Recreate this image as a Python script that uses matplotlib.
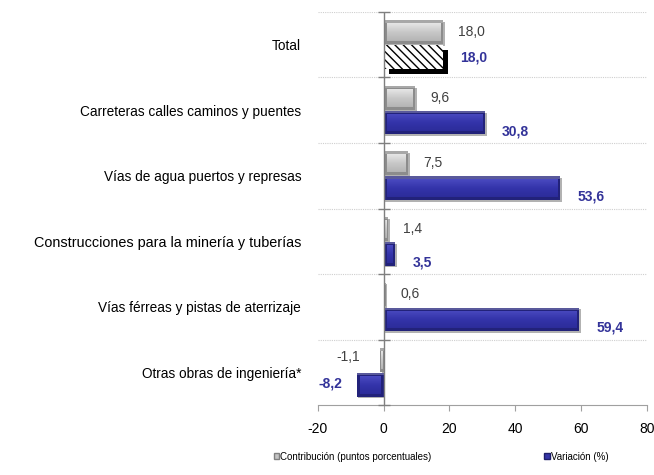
import matplotlib
matplotlib.use("Agg")
import matplotlib.pyplot as plt
import matplotlib.patheffects as pe
from matplotlib.patches import Patch, Rectangle
import matplotlib.colors as mcolors
import numpy as np

plt.rcParams['font.family'] = ['Liberation Sans', 'DejaVu Sans']

categories = ["Total",
              "Carreteras calles caminos y puentes",
              "Vías de agua puertos y represas",
              "Construcciones para la minería y tuberías",
              "Vías férreas y pistas de aterrizaje",
              "Otras obras de ingeniería*"]
contribucion = [18.0, 9.6, 7.5, 1.4, 0.6, -1.1]
variacion = [18.0, 30.8, 53.6, 3.5, 59.4, -8.2]
xticks = [-20, 0, 20, 40, 60, 80]
legend_labels = ["Contribución (puntos porcentuales)", "Variación (%)"]

def fmt(v):
    return f"{v:.1f}".replace(".", ",")

W, H = 654, 475
fig = plt.figure(figsize=(W / 100, H / 100), dpi=100)
ax = fig.add_axes([0.486, 0.147, 0.503, 0.828])

y = np.arange(len(categories))
h = 0.36
off = 0.19
gray_face = '#c4c4c4'
gray_edge = '#808080'
blue_face = '#3535a8'
blue_edge = '#1e1e6a'
blue_text = '#333399'

ax.set_xlim(-20, 80)
ax.set_ylim(len(categories) - 0.5, -0.5)

# pixel -> data conversions
ax_w_px = 0.503 * W
ax_h_px = 0.828 * H
dx_px = 100.0 / ax_w_px
dy_px = len(categories) / ax_h_px

def bevel_bar(ycen, val, outer, top_col, mid_col, bot_col):
    x0 = min(0, val)
    w = abs(val)
    rect = Rectangle((x0, ycen - h / 2), w, h, facecolor=outer, edgecolor='none', zorder=3)
    rect.set_path_effects([pe.SimplePatchShadow(offset=(1.2, -1.2), shadow_rgbFace='#666666', alpha=0.5), pe.Normal()])
    ax.add_patch(rect)
    ix = min(3 * dx_px, w * 0.3)
    iy = 3 * dy_px
    if w - 2 * ix <= 0:
        return
    inner = Rectangle((x0 + ix, ycen - h / 2 + iy), w - 2 * ix, h - 2 * iy,
                      facecolor='none', edgecolor='none', zorder=4)
    ax.add_patch(inner)
    cmap = mcolors.LinearSegmentedColormap.from_list('g', [top_col, mid_col, bot_col])
    grad = np.linspace(0, 1, 64).reshape(-1, 1)
    im = ax.imshow(grad, cmap=cmap, aspect='auto', zorder=4,
                   extent=(x0 + ix, x0 + w - ix, ycen + h / 2 - iy, ycen - h / 2 + iy),
                   interpolation='bilinear')
    im.set_clip_path(inner)
    ax.add_patch(Rectangle((x0, ycen - h / 2), w, iy * 0.8, facecolor='white', alpha=0.25,
                           edgecolor='none', zorder=4))

for i, v in enumerate(contribucion):
    bevel_bar(y[i] - off, v, '#8c8c8c', '#e6e6e6', '#c8c8c8', '#b4b4b4')

for i, v in enumerate(variacion):
    if i == 0:
        b = ax.barh(y[i] + off, v, height=h, color='white', edgecolor='black', hatch='\\\\\\\\',
                    linewidth=0.0, zorder=3)[0]
        b.set_path_effects([pe.SimplePatchShadow(offset=(3.6, -3.6), shadow_rgbFace='black', alpha=1.0), pe.Normal()])
    else:
        bevel_bar(y[i] + off, v, '#22227a', '#4a4ac0', '#3434aa', '#2c2c9a')

for i, v in enumerate(contribucion):
    if v >= 0:
        ax.text(v + 4.6, y[i] - off, fmt(v), ha='left', va='center', fontsize=10, color='#404040')
    else:
        ax.text(v - 6.2, y[i] - off - 0.04, fmt(v), ha='right', va='center', fontsize=10, color='#404040')
for i, v in enumerate(variacion):
    dy = 0.0 if i == 0 else 0.13
    if v >= 0:
        ax.text(v + 5.2, y[i] + off + dy, fmt(v), ha='left', va='center', fontsize=10,
                color=blue_text, fontweight='bold')
    else:
        ax.text(v - 4.3, y[i] + off - 0.02, fmt(v), ha='right', va='center', fontsize=10,
                color=blue_text, fontweight='bold')

ax.set_xticks(xticks)
ax.set_xticklabels([str(t) for t in xticks], fontsize=10)
ax.set_yticks(y)
ax.set_yticklabels(categories, fontsize=9.8)
for lab in ax.get_yticklabels():
    if lab.get_text().startswith("Construcciones"):
        lab.set_fontsize(10.4)
ax.tick_params(axis='y', length=0, pad=12)
ax.tick_params(axis='x', length=4, color='#a0a0a0', direction='out', pad=8)

for s in ['top', 'right', 'left']:
    ax.spines[s].set_visible(False)
ax.spines['bottom'].set_color('#a0a0a0')

bounds = np.arange(-0.5, len(categories), 1.0)
for bb in bounds[:-1]:
    ax.axhline(bb, color='#cfcfcf', linewidth=0.8, linestyle=(0, (1, 1)), zorder=1)
ax.axvline(0, color='#7f7f7f', linewidth=1.0, zorder=5)
ax.plot([0] * len(bounds), bounds, linestyle='none', marker='_', markersize=8, color='#7f7f7f',
        zorder=5, clip_on=False)

ax.set_xlim(-20, 80)
ax.set_ylim(len(categories) - 0.5, -0.5)

handles = [Patch(facecolor=gray_face, edgecolor=gray_edge), Patch(facecolor=blue_face, edgecolor=blue_edge)]
fig.legend(handles[:1], legend_labels[:1], loc='lower left', bbox_to_anchor=(0.405, 0.01), frameon=False,
           fontsize=7, handlelength=0.6, handleheight=0.6, handletextpad=0.1)
fig.legend(handles[1:], legend_labels[1:], loc='lower left', bbox_to_anchor=(0.818, 0.01), frameon=False,
           fontsize=7, handlelength=0.6, handleheight=0.6, handletextpad=0.1)

fig.savefig("out.png", dpi=100)
